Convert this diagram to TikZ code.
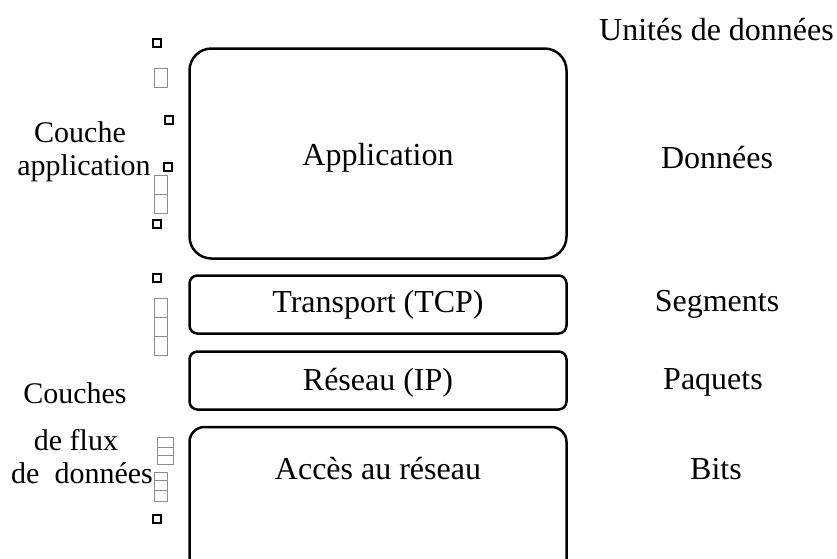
\documentclass[tikz,border=0pt]{standalone}
\usepackage{fontspec}
\setmainfont{Liberation Serif}
\tikzset{
  layer/.style={draw, line width=2.5pt, minimum width=377pt, inner sep=0pt},
  lbl/.style={font=\fontsize{32}{38}\selectfont, anchor=base, inner sep=0pt},
  side/.style={lbl, font=\fontsize{30}{36}\selectfont},
  glyph/.style={draw, line width=1.3pt},
  ghost/.style={draw=black!45, line width=0.7pt}
}
\begin{document}
\begin{tikzpicture}[x=1pt, y=-1pt]
  \useasboundingbox (0,0) rectangle (837,558);
  % couches
  \node [layer, rounded corners=22pt, minimum height=210pt] (app) at (378,153.5) {};
  \node [layer, rounded corners=8pt, minimum height=58pt] (tcp) at (378,304.5) {};
  \node [layer, rounded corners=8pt, minimum height=58pt] (ip) at (378,380.5) {};
  \node [layer, rounded corners=15pt, minimum height=160pt] (acc) at (378,507) {};
  \node [lbl] (tapp) at (378,165) {Application};
  \node [lbl] (ttcp) at (378,312) {Transport (TCP)};
  \node [lbl] (tip) at (378,390) {Réseau (IP)};
  \node [lbl] (tacc) at (378,479) {Accès au réseau};
  % unites
  \node [lbl] (unit) at (716.5,40) {Unités de données};
  \node [lbl] (data) at (717,168) {Données};
  \node [lbl] (seg) at (717,311) {Segments};
  \node [lbl] (paq) at (713,389) {Paquets};
  \node [lbl] (bits) at (716,479) {Bits};
  % noms a gauche
  \node [side] (c1) at (80,142) {Couche};
  \node [side] (c2) at (84,175) {application};
  \node [side] (f1) at (75,403) {Couches};
  \node [side] (f2) at (76,450) {de flux};
  \node [side] (f3) at (82,483) {de~ données};
  % petits carres
  \draw [glyph] (153,39) rectangle +(8,8);
  \draw [glyph] (165,116) rectangle +(8,8);
  \draw [glyph] (164,163) rectangle +(8,8);
  \draw [glyph] (153,220) rectangle +(8,8);
  \draw [glyph] (153,274) rectangle +(8,8);
  \draw [glyph] (153,515) rectangle +(8,8);
  \draw [ghost] (154,68) rectangle (167,87);
  \draw [ghost] (154,175) rectangle (167,194) (154,194) rectangle (167,213);
  \foreach \y in {298,317,336}
    \draw [ghost] (154,\y) rectangle +(13,19);
  \foreach \y/\h in {437/10,447/8,455/9}
    \draw [ghost] (157,\y) rectangle +(16,\h);
  \foreach \y/\h in {472/8,480/10,490/11}
    \draw [ghost] (154,\y) rectangle +(13,\h);
\end{tikzpicture}
\end{document}
